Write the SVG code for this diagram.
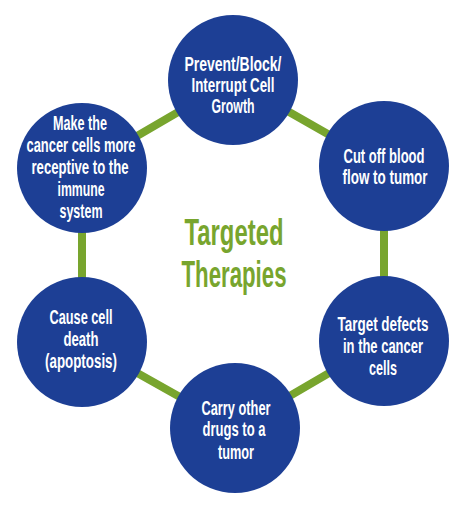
<svg xmlns="http://www.w3.org/2000/svg" width="461" height="507" viewBox="0 0 461 507">
<style>
.c{fill:#1d3f95}
.l{stroke:#78a52e;stroke-width:8;fill:none}
.t{font-family:"Liberation Sans Narrow","Liberation Sans",Arial,sans-serif;font-weight:bold;font-size:21px;fill:#ffffff;text-anchor:middle}
.h{font-family:"Liberation Sans Narrow","Liberation Sans",Arial,sans-serif;font-weight:bold;font-size:37px;fill:#78a52e;text-anchor:middle}
</style>
<rect width="461" height="507" fill="#ffffff"/>
<g id="connectors">
<polygon class="l" points="233,80 384,166 384,341 235,428 82,342 82,168"/>
</g>
<g id="center">
<text class="h" x="234" y="245" textLength="99" lengthAdjust="spacingAndGlyphs">Targeted</text>
<text class="h" x="234" y="287" textLength="105" lengthAdjust="spacingAndGlyphs">Therapies</text>
</g>
<g id="n1">
<circle class="c" cx="233" cy="80" r="65"/>
<text class="t" x="233" y="71" textLength="97" lengthAdjust="spacingAndGlyphs">Prevent/Block/</text>
<text class="t" x="233" y="92" textLength="83" lengthAdjust="spacingAndGlyphs">Interrupt Cell</text>
<text class="t" x="233" y="113" textLength="43" lengthAdjust="spacingAndGlyphs">Growth</text>
</g>
<g id="n2">
<circle class="c" cx="384" cy="166" r="65"/>
<text class="t" x="384" y="163" textLength="81" lengthAdjust="spacingAndGlyphs">Cut off blood</text>
<text class="t" x="385" y="184" textLength="85" lengthAdjust="spacingAndGlyphs">flow to tumor</text>
</g>
<g id="n3">
<circle class="c" cx="384" cy="341" r="65"/>
<text class="t" x="383" y="331" textLength="91" lengthAdjust="spacingAndGlyphs">Target defects</text>
<text class="t" x="383" y="353" textLength="80" lengthAdjust="spacingAndGlyphs">in the cancer</text>
<text class="t" x="383" y="375" textLength="28" lengthAdjust="spacingAndGlyphs">cells</text>
</g>
<g id="n4">
<circle class="c" cx="235" cy="428" r="65"/>
<text class="t" x="236" y="415" textLength="69" lengthAdjust="spacingAndGlyphs">Carry other</text>
<text class="t" x="234" y="436" textLength="63" lengthAdjust="spacingAndGlyphs">drugs to a</text>
<text class="t" x="236" y="459" textLength="36" lengthAdjust="spacingAndGlyphs">tumor</text>
</g>
<g id="n5">
<circle class="c" cx="82" cy="342" r="65"/>
<text class="t" x="81" y="324" textLength="63" lengthAdjust="spacingAndGlyphs">Cause cell</text>
<text class="t" x="81" y="346" textLength="35" lengthAdjust="spacingAndGlyphs">death</text>
<text class="t" x="81" y="368" textLength="72" lengthAdjust="spacingAndGlyphs">(apoptosis)</text>
</g>
<g id="n6">
<circle class="c" cx="82" cy="168" r="65"/>
<text class="t" x="80" y="130" textLength="54" lengthAdjust="spacingAndGlyphs">Make the</text>
<text class="t" x="81" y="152" textLength="109" lengthAdjust="spacingAndGlyphs">cancer cells more</text>
<text class="t" x="80" y="174" textLength="97" lengthAdjust="spacingAndGlyphs">receptive to the</text>
<text class="t" x="81" y="196" textLength="47" lengthAdjust="spacingAndGlyphs">immune</text>
<text class="t" x="81" y="218" textLength="43" lengthAdjust="spacingAndGlyphs">system</text>
</g>
</svg>
